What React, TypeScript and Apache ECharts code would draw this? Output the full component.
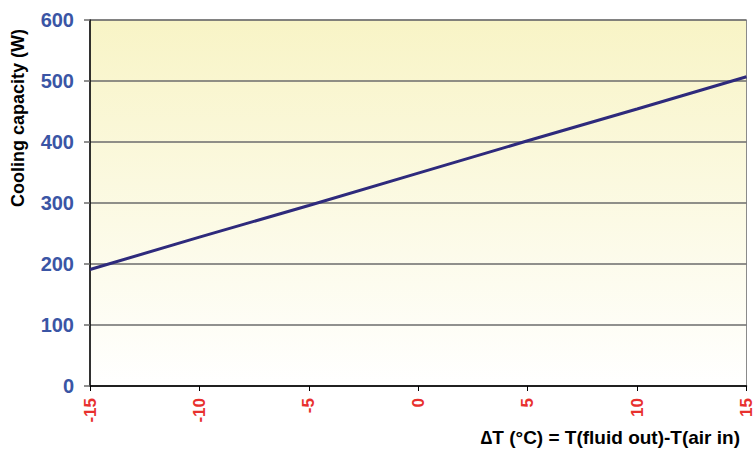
import React, { useEffect, useRef } from "react";
import * as echarts from "echarts";

const xValues = [-15, -10, -5, 0, 5, 10, 15];
const capacity = [191, 244, 296, 349, 402, 454, 507];
const xTitle = "\u2206T (\u00b0C) = T(fluid out)-T(air in)";
const yTitle = "Cooling capacity (W)";

export default function App() {
  const ref = useRef<HTMLDivElement>(null);
  useEffect(() => {
    if (!ref.current) return;
    const chart = echarts.init(ref.current, null, { renderer: "svg" });
    chart.setOption({
      animation: false,
      backgroundColor: "#ffffff",
      textStyle: { fontFamily: "Liberation Sans, Arial, sans-serif" },
      grid: {
        left: 90,
        right: 6,
        top: 20,
        bottom: 64,
        show: true,
        borderColor: "#8a8a8a",
        borderWidth: 1,
        backgroundColor: new echarts.graphic.LinearGradient(0, 0, 0, 1, [
          { offset: 0, color: "#f8f4c6" },
          { offset: 1, color: "#ffffff" },
        ]),
      },
      xAxis: {
        type: "value",
        min: -15,
        max: 15,
        interval: 5,
        axisLine: { show: true, onZero: false, lineStyle: { color: "#000", width: 1.5 } },
        axisTick: { show: true, length: 5, lineStyle: { color: "#000" } },
        splitLine: { show: false },
        axisLabel: {
          rotate: 90,
          margin: 12,
          color: "#e8302e",
          fontWeight: "bold",
          fontSize: 17,
          fontFamily: "Liberation Sans, Arial, sans-serif",
        },
      },
      yAxis: {
        type: "value",
        min: 0,
        max: 600,
        interval: 100,
        axisLine: { show: true, onZero: false, lineStyle: { color: "#000", width: 1.5 } },
        axisTick: { show: true, length: 6, lineStyle: { color: "#6b6b6b", width: 1.5 } },
        splitLine: { show: true, lineStyle: { color: "#6b6b6b", width: 1.5 } },
        axisLabel: {
          margin: 16,
          color: "#3a55a5",
          fontWeight: "bold",
          fontSize: 20,
          fontFamily: "Liberation Sans, Arial, sans-serif",
        },
      },
      graphic: [
        {
          type: "text",
          right: 15,
          top: 428,
          style: {
            text: xTitle,
            fill: "#000",
            font: "bold 19px Liberation Sans, Arial, sans-serif",
          },
        },
        {
          type: "text",
          x: 18,
          y: 118,
          rotation: Math.PI / 2,
          style: {
            text: yTitle,
            fill: "#000",
            align: "center",
            verticalAlign: "middle",
            font: "bold 18px Liberation Sans, Arial, sans-serif",
          },
        },
      ],
      series: [
        {
          type: "line",
          data: xValues.map((x, i) => [x, capacity[i]]),
          symbol: "none",
          lineStyle: { color: "#2e2a7c", width: 3 },
        },
      ],
    });
    return () => chart.dispose();
  }, []);
  return (
    <div
      ref={ref}
      style={{ position: "fixed", left: 0, top: 0, width: 755, height: 450 }}
    />
  );
}
